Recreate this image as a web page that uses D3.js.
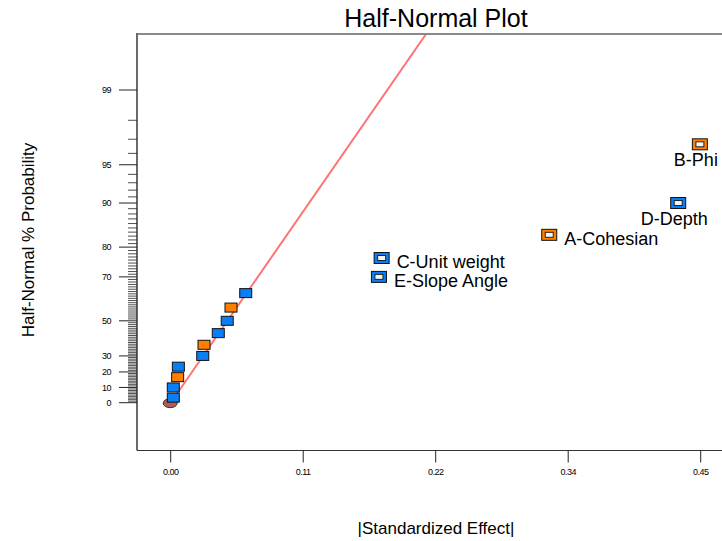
<!DOCTYPE html>
<html>
<head>
<meta charset="utf-8">
<script src="https://cdn.jsdelivr.net/npm/d3@7"></script>
<style>
  html, body { margin: 0; padding: 0; background: #ffffff; }
  svg { display: block; font-family: "Liberation Sans", Arial, sans-serif; }
</style>
</head>
<body>
<svg id="chart" width="722" height="541"></svg>
<script>
// ---------------- data ----------------
const effects = [0.0022, 0.0022, 0.0059, 0.0065, 0.0272, 0.0283, 0.0404, 0.0480, 0.0512, 0.0637, 0.1768, 0.1791, 0.3214, 0.4309, 0.4493];
const probabilities = [3.33, 10, 16.67, 23.33, 30, 36.67, 43.33, 50, 56.67, 63.33, 70, 76.67, 83.33, 90, 96.67];
const signs = ["neg", "neg", "pos", "neg", "neg", "pos", "neg", "neg", "pos", "neg", "neg", "neg", "pos", "neg", "pos"];
const termLabels = ["", "", "", "", "", "", "", "", "", "", "E-Slope Angle", "C-Unit weight", "A-Cohesian", "D-Depth", "B-Phi"];
const xTickValues = [0, 0.1125, 0.225, 0.3375, 0.45];
const xTickLabels = ["0.00", "0.11", "0.22", "0.34", "0.45"];
const yMajorTicks = [0, 10, 20, 30, 50, 70, 80, 90, 95, 99];
const fitSlope = 0.0714; // effect per unit half-normal quantile

// ---------------- helpers ----------------
function probit(p) {
  const a = [-3.969683028665376e+01, 2.209460984245205e+02, -2.759285104469687e+02, 1.383577518672690e+02, -3.066479806614716e+01, 2.506628277459239e+00];
  const b = [-5.447609879822406e+01, 1.615858368580409e+02, -1.556989798598866e+02, 6.680131188771972e+01, -1.328068155288572e+01];
  const c = [-7.784894002430293e-03, -3.223964580411365e-01, -2.400758277161838e+00, -2.549671010243765e+00, 4.374664141464968e+00, 2.938163982698783e+00];
  const d = [7.784695709041462e-03, 3.224671290700398e-01, 2.445134137142996e+00, 3.754408661907416e+00];
  const pl = 0.02425, ph = 1 - pl;
  let q, r;
  if (p < pl) {
    q = Math.sqrt(-2 * Math.log(p));
    return (((((c[0]*q+c[1])*q+c[2])*q+c[3])*q+c[4])*q+c[5]) / ((((d[0]*q+d[1])*q+d[2])*q+d[3])*q+1);
  } else if (p <= ph) {
    q = p - 0.5; r = q*q;
    return (((((a[0]*r+a[1])*r+a[2])*r+a[3])*r+a[4])*r+a[5])*q / (((((b[0]*r+b[1])*r+b[2])*r+b[3])*r+b[4])*r+1);
  } else {
    q = Math.sqrt(-2 * Math.log(1 - p));
    return -(((((c[0]*q+c[1])*q+c[2])*q+c[3])*q+c[4])*q+c[5]) / ((((d[0]*q+d[1])*q+d[2])*q+d[3])*q+1);
  }
}
const halfZ = pct => probit(0.5 + pct / 200);

// ---------------- layout ----------------
const svg = d3.select("#chart");
const frame = { left: 137, top: 34, bottom: 450.5, right: 722 };

const x = d3.scaleLinear().domain([0, 0.45]).range([170.7, 700.7]);
const yz = d3.scaleLinear().domain([0, halfZ(99)]).range([402.7, 90]);
const y = pct => yz(halfZ(pct));

const colors = { pos: "#ff8000", neg: "#0a7ef5" };

// clip
svg.append("defs").append("clipPath").attr("id", "plotclip")
  .append("rect").attr("x", frame.left).attr("y", frame.top)
  .attr("width", frame.right - frame.left).attr("height", frame.bottom - frame.top);

// title
svg.append("text").attr("x", 436).attr("y", 27).attr("text-anchor", "middle")
  .attr("font-size", 25).attr("fill", "#000").text("Half-Normal Plot");

// axis titles
svg.append("text").attr("x", 436).attr("y", 534).attr("text-anchor", "middle")
  .attr("font-size", 17).attr("fill", "#000").text("|Standardized Effect|");
svg.append("text").attr("transform", "translate(34,240) rotate(-90)").attr("text-anchor", "middle")
  .attr("font-size", 17).attr("fill", "#000").text("Half-Normal % Probability");

// fit line (drawn behind points)
const zTop = yz.invert(frame.top);
svg.append("line").attr("clip-path", "url(#plotclip)")
  .attr("x1", x(0)).attr("y1", yz(0))
  .attr("x2", x(fitSlope * zTop)).attr("y2", yz(zTop))
  .attr("stroke", "#ff7373").attr("stroke-width", 2);

// frame
svg.append("line").attr("x1", frame.left).attr("x2", frame.right).attr("y1", frame.top).attr("y2", frame.top)
  .attr("stroke", "#8a8a8a").attr("stroke-width", 2);
svg.append("line").attr("x1", frame.left).attr("x2", frame.left).attr("y1", frame.top - 1).attr("y2", frame.bottom)
  .attr("stroke", "#6a6a6a").attr("stroke-width", 2);
svg.append("line").attr("x1", frame.left).attr("x2", frame.right).attr("y1", frame.bottom).attr("y2", frame.bottom)
  .attr("stroke", "#333").attr("stroke-width", 1);

// x ticks
const xt = svg.append("g");
xTickValues.forEach((v, i) => {
  xt.append("line").attr("x1", x(v)).attr("x2", x(v)).attr("y1", frame.bottom).attr("y2", frame.bottom + 12)
    .attr("stroke", "#222").attr("stroke-width", 1);
  xt.append("text").attr("x", x(v)).attr("y", 475).attr("text-anchor", "middle")
    .attr("font-size", 9).attr("letter-spacing", -0.5).attr("fill", "#000").text(xTickLabels[i]);
});

// y ticks
const ytk = svg.append("g");
d3.range(1, 99).filter(v => !yMajorTicks.includes(v)).forEach(v => {
  ytk.append("line").attr("x1", frame.left - 9).attr("x2", frame.left).attr("y1", y(v)).attr("y2", y(v))
    .attr("stroke", "#222").attr("stroke-width", 0.8);
});
yMajorTicks.forEach(v => {
  ytk.append("line").attr("x1", frame.left - 18).attr("x2", frame.left).attr("y1", y(v)).attr("y2", y(v))
    .attr("stroke", "#222").attr("stroke-width", 1);
  ytk.append("text").attr("x", 111).attr("y", y(v)).attr("dy", "0.35em").attr("text-anchor", "end")
    .attr("font-size", 9).attr("letter-spacing", -0.5).attr("fill", "#000").text(String(v));
});

// origin marker
svg.append("ellipse").attr("cx", x(0) - 0.5).attr("cy", yz(0) + 0.5).attr("rx", 7).attr("ry", 4.5)
  .attr("fill", "#b35a5a").attr("stroke", "#333").attr("stroke-width", 1);

// points
const pts = effects.map((e, i) => ({ e, p: probabilities[i], s: signs[i], label: termLabels[i] }));
const g = svg.append("g");
pts.forEach(d => {
  const cx = x(d.e), cy = y(d.p);
  if (d.label) {
    g.append("rect").attr("x", cx - 7.5).attr("y", cy - 5.5).attr("width", 15).attr("height", 11)
      .attr("fill", colors[d.s]).attr("stroke", "#111").attr("stroke-width", 1);
    g.append("rect").attr("x", cx - 4).attr("y", cy - 2.5).attr("width", 8).attr("height", 5)
      .attr("fill", "#f4f4f4").attr("stroke", "#222").attr("stroke-width", 1);
    const below = d.e > 0.4;
    g.append("text")
      .attr("x", below ? cx - 4 : cx + 15)
      .attr("y", below ? cy + 22 : cy + 10)
      .attr("text-anchor", below ? "middle" : "start")
      .attr("font-size", 18).attr("fill", "#000").text(d.label);
  } else {
    g.append("rect").attr("x", cx - 6).attr("y", cy - 4.5).attr("width", 12).attr("height", 9)
      .attr("fill", colors[d.s]).attr("stroke", "#111").attr("stroke-width", 1);
  }
});
</script>
</body>
</html>
